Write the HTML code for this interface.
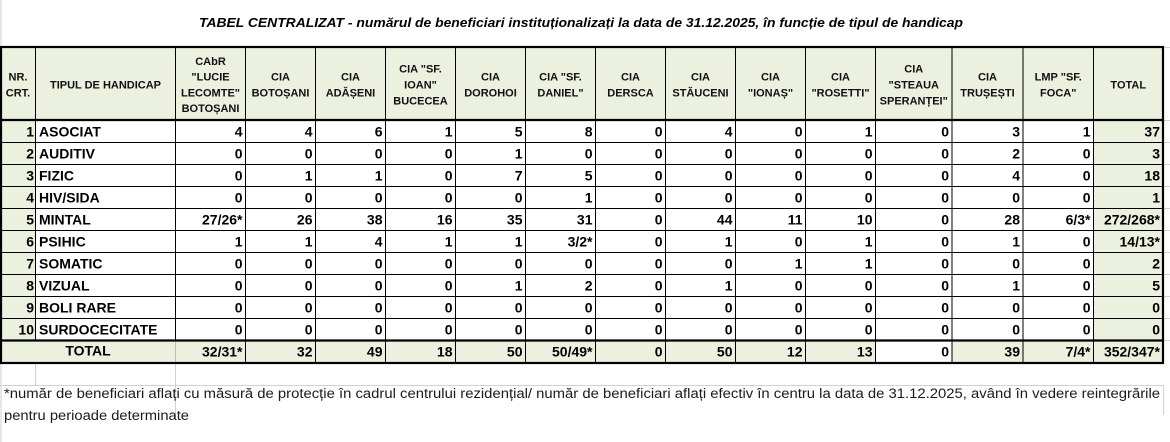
<!DOCTYPE html>
<html><head><meta charset="utf-8">
<style>
html,body{margin:0;padding:0;background:#fff;}
svg{display:block;}
.h{font-family:"Liberation Sans",Arial,sans-serif;font-size:11px;font-weight:bold;fill:#111;text-anchor:middle;}
.b{font-family:"Liberation Sans",Arial,sans-serif;font-size:14px;font-weight:bold;fill:#000;}
.n{text-anchor:end;}
.t{font-family:"Liberation Sans",Arial,sans-serif;font-size:13px;font-weight:bold;font-style:italic;fill:#000;}
.f{font-family:"Liberation Sans",Arial,sans-serif;font-size:13.5px;fill:#1a1a1a;}
</style></head>
<body>
<svg width="1170" height="442" viewBox="0 0 1170 442" xmlns="http://www.w3.org/2000/svg">
<rect x="0" y="0" width="1170" height="442" fill="#fff"/>
<!-- faint gridlines -->
<g stroke="#d2d2d2" stroke-width="1">
<line x1="1" y1="0" x2="1" y2="442"/>
<line x1="0" y1="385.5" x2="1164" y2="385.5"/>
<line x1="35.5" y1="363" x2="35.5" y2="385"/>
<line x1="175.5" y1="363" x2="175.5" y2="420"/>
<line x1="1163.5" y1="385" x2="1163.5" y2="415"/>
<line x1="1164" y1="47.5" x2="1170" y2="47.5"/>
<line x1="1164" y1="120.5" x2="1170" y2="120.5"/>
<line x1="1164" y1="142.5" x2="1170" y2="142.5"/>
<line x1="1164" y1="164.5" x2="1170" y2="164.5"/>
<line x1="1164" y1="186.5" x2="1170" y2="186.5"/>
<line x1="1164" y1="208.5" x2="1170" y2="208.5"/>
<line x1="1164" y1="230.5" x2="1170" y2="230.5"/>
<line x1="1164" y1="252.5" x2="1170" y2="252.5"/>
<line x1="1164" y1="274.5" x2="1170" y2="274.5"/>
<line x1="1164" y1="296.5" x2="1170" y2="296.5"/>
<line x1="1164" y1="318.5" x2="1170" y2="318.5"/>
<line x1="1164" y1="340.5" x2="1170" y2="340.5"/>
</g>
<!-- title -->
<text class="t" x="199" y="27" textLength="764" lengthAdjust="spacingAndGlyphs">TABEL CENTRALIZAT - numărul de beneficiari instituționalizați la data de 31.12.2025, în funcție de tipul de handicap</text>
<!-- fills -->
<g fill="#EBF0DF">
<rect x="1" y="47" width="1162" height="73"/>
<rect x="1" y="120" width="34.5" height="220"/>
<rect x="1093.5" y="120" width="69.5" height="220"/>
<rect x="1" y="340" width="874.5" height="23"/>
<rect x="952" y="340" width="211" height="23"/>
</g>
<!-- thin lines -->
<g stroke="#000" stroke-width="1">
<line x1="35.5" y1="47" x2="35.5" y2="340"/>
<line x1="245.5" y1="47" x2="245.5" y2="363"/>
<line x1="315.5" y1="47" x2="315.5" y2="363"/>
<line x1="385.5" y1="47" x2="385.5" y2="363"/>
<line x1="455.5" y1="47" x2="455.5" y2="363"/>
<line x1="525.5" y1="47" x2="525.5" y2="363"/>
<line x1="595.5" y1="47" x2="595.5" y2="363"/>
<line x1="665.5" y1="47" x2="665.5" y2="363"/>
<line x1="735.5" y1="47" x2="735.5" y2="363"/>
<line x1="805.5" y1="47" x2="805.5" y2="363"/>
<line x1="875.5" y1="47" x2="875.5" y2="363"/>
<line x1="952" y1="47" x2="952" y2="363"/>
<line x1="1023" y1="47" x2="1023" y2="363"/>
<line x1="1093.5" y1="47" x2="1093.5" y2="363"/>
<line x1="1" y1="142.5" x2="1163" y2="142.5"/>
<line x1="1" y1="164.5" x2="1163" y2="164.5"/>
<line x1="1" y1="186.5" x2="1163" y2="186.5"/>
<line x1="1" y1="208.5" x2="1163" y2="208.5"/>
<line x1="1" y1="230.5" x2="1163" y2="230.5"/>
<line x1="1" y1="252.5" x2="1163" y2="252.5"/>
<line x1="1" y1="274.5" x2="1163" y2="274.5"/>
<line x1="1" y1="296.5" x2="1163" y2="296.5"/>
<line x1="1" y1="318.5" x2="1163" y2="318.5"/>
</g>
<line x1="175.5" y1="47" x2="175.5" y2="340" stroke="#000" stroke-width="1"/>
<line x1="175.5" y1="340" x2="175.5" y2="363" stroke="#bbb" stroke-width="1"/>
<!-- thick lines -->
<g stroke="#000" stroke-width="2.2" fill="none">
<rect x="1" y="47" width="1162" height="316"/>
<line x1="1" y1="120" x2="1163" y2="120"/>
<line x1="1" y1="340.5" x2="1163" y2="340.5"/>
</g>
<!-- header text -->
<text class="h" x="18" y="80.6">NR.</text><text class="h" x="18" y="96.4">CRT.</text>
<text class="h" x="105.5" y="88.5">TIPUL DE HANDICAP</text>
<text class="h" x="210.5" y="64.8">CAbR</text><text class="h" x="210.5" y="80.6">"LUCIE</text><text class="h" x="210.5" y="96.4">LECOMTE"</text><text class="h" x="210.5" y="112.2">BOTOȘANI</text>
<text class="h" x="280.5" y="80.6">CIA</text><text class="h" x="280.5" y="96.4">BOTOȘANI</text>
<text class="h" x="350.5" y="80.6">CIA</text><text class="h" x="350.5" y="96.4">ADĂȘENI</text>
<text class="h" x="420.5" y="72.7">CIA "SF.</text><text class="h" x="420.5" y="88.5">IOAN"</text><text class="h" x="420.5" y="104.3">BUCECEA</text>
<text class="h" x="490.5" y="80.6">CIA</text><text class="h" x="490.5" y="96.4">DOROHOI</text>
<text class="h" x="560.5" y="80.6">CIA "SF.</text><text class="h" x="560.5" y="96.4">DANIEL"</text>
<text class="h" x="630.5" y="80.6">CIA</text><text class="h" x="630.5" y="96.4">DERSCA</text>
<text class="h" x="700.5" y="80.6">CIA</text><text class="h" x="700.5" y="96.4">STĂUCENI</text>
<text class="h" x="770.5" y="80.6">CIA</text><text class="h" x="770.5" y="96.4">"IONAȘ"</text>
<text class="h" x="840.5" y="80.6">CIA</text><text class="h" x="840.5" y="96.4">"ROSETTI"</text>
<text class="h" x="913.75" y="72.7">CIA</text><text class="h" x="913.75" y="88.5">"STEAUA</text><text class="h" x="913.75" y="104.3">SPERANȚEI"</text>
<text class="h" x="987.5" y="80.6">CIA</text><text class="h" x="987.5" y="96.4">TRUȘEȘTI</text>
<text class="h" x="1058.25" y="80.6">LMP "SF.</text><text class="h" x="1058.25" y="96.4">FOCA"</text>
<text class="h" x="1128.25" y="88.5">TOTAL</text>
<!-- body: NR numbers -->
<g class="b n">
<text x="34" y="136.7">1</text><text x="34" y="158.7">2</text><text x="34" y="180.7">3</text><text x="34" y="202.7">4</text><text x="34" y="224.7">5</text>
<text x="34" y="246.7">6</text><text x="34" y="268.7">7</text><text x="34" y="290.7">8</text><text x="34" y="312.7">9</text><text x="34" y="334.7">10</text>
</g>
<g class="b">
<text x="39" y="136.7">ASOCIAT</text><text x="39" y="158.7">AUDITIV</text><text x="39" y="180.7">FIZIC</text><text x="39" y="202.7">HIV/SIDA</text><text x="39" y="224.7">MINTAL</text>
<text x="39" y="246.7">PSIHIC</text><text x="39" y="268.7">SOMATIC</text><text x="39" y="290.7">VIZUAL</text><text x="39" y="312.7">BOLI RARE</text><text x="39" y="334.7">SURDOCECITATE</text>
<text x="88" y="355.5" text-anchor="middle">TOTAL</text>
</g>
<!-- data -->
<g class="b n">
<!-- row 1 -->
<text x="242.5" y="136.7">4</text><text x="312.5" y="136.7">4</text><text x="382.5" y="136.7">6</text><text x="452.5" y="136.7">1</text><text x="522.5" y="136.7">5</text><text x="592.5" y="136.7">8</text><text x="662.5" y="136.7">0</text><text x="732.5" y="136.7">4</text><text x="802.5" y="136.7">0</text><text x="872.5" y="136.7">1</text><text x="949" y="136.7">0</text><text x="1020" y="136.7">3</text><text x="1090.5" y="136.7">1</text><text x="1160" y="136.7">37</text>
<!-- row 2 -->
<text x="242.5" y="158.7">0</text><text x="312.5" y="158.7">0</text><text x="382.5" y="158.7">0</text><text x="452.5" y="158.7">0</text><text x="522.5" y="158.7">1</text><text x="592.5" y="158.7">0</text><text x="662.5" y="158.7">0</text><text x="732.5" y="158.7">0</text><text x="802.5" y="158.7">0</text><text x="872.5" y="158.7">0</text><text x="949" y="158.7">0</text><text x="1020" y="158.7">2</text><text x="1090.5" y="158.7">0</text><text x="1160" y="158.7">3</text>
<!-- row 3 -->
<text x="242.5" y="180.7">0</text><text x="312.5" y="180.7">1</text><text x="382.5" y="180.7">1</text><text x="452.5" y="180.7">0</text><text x="522.5" y="180.7">7</text><text x="592.5" y="180.7">5</text><text x="662.5" y="180.7">0</text><text x="732.5" y="180.7">0</text><text x="802.5" y="180.7">0</text><text x="872.5" y="180.7">0</text><text x="949" y="180.7">0</text><text x="1020" y="180.7">4</text><text x="1090.5" y="180.7">0</text><text x="1160" y="180.7">18</text>
<!-- row 4 -->
<text x="242.5" y="202.7">0</text><text x="312.5" y="202.7">0</text><text x="382.5" y="202.7">0</text><text x="452.5" y="202.7">0</text><text x="522.5" y="202.7">0</text><text x="592.5" y="202.7">1</text><text x="662.5" y="202.7">0</text><text x="732.5" y="202.7">0</text><text x="802.5" y="202.7">0</text><text x="872.5" y="202.7">0</text><text x="949" y="202.7">0</text><text x="1020" y="202.7">0</text><text x="1090.5" y="202.7">0</text><text x="1160" y="202.7">1</text>
<!-- row 5 -->
<text x="242.5" y="224.7">27/26*</text><text x="312.5" y="224.7">26</text><text x="382.5" y="224.7">38</text><text x="452.5" y="224.7">16</text><text x="522.5" y="224.7">35</text><text x="592.5" y="224.7">31</text><text x="662.5" y="224.7">0</text><text x="732.5" y="224.7">44</text><text x="802.5" y="224.7">11</text><text x="872.5" y="224.7">10</text><text x="949" y="224.7">0</text><text x="1020" y="224.7">28</text><text x="1090.5" y="224.7">6/3*</text><text x="1160" y="224.7">272/268*</text>
<!-- row 6 -->
<text x="242.5" y="246.7">1</text><text x="312.5" y="246.7">1</text><text x="382.5" y="246.7">4</text><text x="452.5" y="246.7">1</text><text x="522.5" y="246.7">1</text><text x="592.5" y="246.7">3/2*</text><text x="662.5" y="246.7">0</text><text x="732.5" y="246.7">1</text><text x="802.5" y="246.7">0</text><text x="872.5" y="246.7">1</text><text x="949" y="246.7">0</text><text x="1020" y="246.7">1</text><text x="1090.5" y="246.7">0</text><text x="1160" y="246.7">14/13*</text>
<!-- row 7 -->
<text x="242.5" y="268.7">0</text><text x="312.5" y="268.7">0</text><text x="382.5" y="268.7">0</text><text x="452.5" y="268.7">0</text><text x="522.5" y="268.7">0</text><text x="592.5" y="268.7">0</text><text x="662.5" y="268.7">0</text><text x="732.5" y="268.7">0</text><text x="802.5" y="268.7">1</text><text x="872.5" y="268.7">1</text><text x="949" y="268.7">0</text><text x="1020" y="268.7">0</text><text x="1090.5" y="268.7">0</text><text x="1160" y="268.7">2</text>
<!-- row 8 -->
<text x="242.5" y="290.7">0</text><text x="312.5" y="290.7">0</text><text x="382.5" y="290.7">0</text><text x="452.5" y="290.7">0</text><text x="522.5" y="290.7">1</text><text x="592.5" y="290.7">2</text><text x="662.5" y="290.7">0</text><text x="732.5" y="290.7">1</text><text x="802.5" y="290.7">0</text><text x="872.5" y="290.7">0</text><text x="949" y="290.7">0</text><text x="1020" y="290.7">1</text><text x="1090.5" y="290.7">0</text><text x="1160" y="290.7">5</text>
<!-- row 9 -->
<text x="242.5" y="312.7">0</text><text x="312.5" y="312.7">0</text><text x="382.5" y="312.7">0</text><text x="452.5" y="312.7">0</text><text x="522.5" y="312.7">0</text><text x="592.5" y="312.7">0</text><text x="662.5" y="312.7">0</text><text x="732.5" y="312.7">0</text><text x="802.5" y="312.7">0</text><text x="872.5" y="312.7">0</text><text x="949" y="312.7">0</text><text x="1020" y="312.7">0</text><text x="1090.5" y="312.7">0</text><text x="1160" y="312.7">0</text>
<!-- row 10 -->
<text x="242.5" y="334.7">0</text><text x="312.5" y="334.7">0</text><text x="382.5" y="334.7">0</text><text x="452.5" y="334.7">0</text><text x="522.5" y="334.7">0</text><text x="592.5" y="334.7">0</text><text x="662.5" y="334.7">0</text><text x="732.5" y="334.7">0</text><text x="802.5" y="334.7">0</text><text x="872.5" y="334.7">0</text><text x="949" y="334.7">0</text><text x="1020" y="334.7">0</text><text x="1090.5" y="334.7">0</text><text x="1160" y="334.7">0</text>
<!-- total -->
<text x="242.5" y="356.5">32/31*</text><text x="312.5" y="356.5">32</text><text x="382.5" y="356.5">49</text><text x="452.5" y="356.5">18</text><text x="522.5" y="356.5">50</text><text x="592.5" y="356.5">50/49*</text><text x="662.5" y="356.5">0</text><text x="732.5" y="356.5">50</text><text x="802.5" y="356.5">12</text><text x="872.5" y="356.5">13</text><text x="949" y="356.5">0</text><text x="1020" y="356.5">39</text><text x="1090.5" y="356.5">7/4*</text><text x="1160" y="356.5">352/347*</text>
</g>
<!-- footnote -->
<text class="f" x="4" y="398" textLength="1156" lengthAdjust="spacingAndGlyphs">*număr de beneficiari aflați cu măsură de protecție în cadrul centrului rezidențial/ număr de beneficiari aflați efectiv în centru la data de 31.12.2025, având în vedere reintegrările</text>
<text class="f" x="4" y="420" textLength="185" lengthAdjust="spacingAndGlyphs">pentru perioade determinate</text>
</svg>
</body></html>
